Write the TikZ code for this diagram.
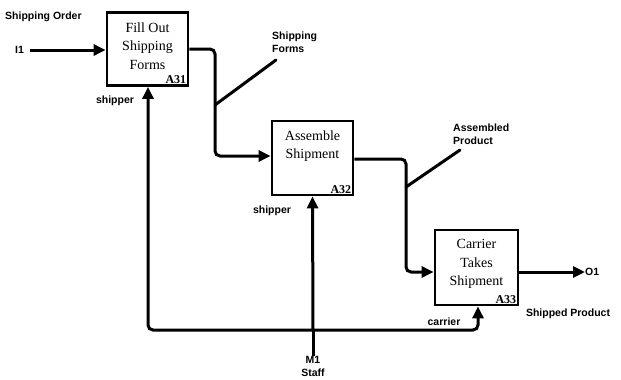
\documentclass[tikz,border=0pt]{standalone}
\usepackage{fontspec}
\setmainfont{Liberation Serif}
\setsansfont{Liberation Sans}
\usetikzlibrary{arrows.meta}
\begin{document}
\begin{tikzpicture}[x=1pt,y=-1pt,
  box/.style={draw,line width=2.8pt,minimum width=81pt,minimum height=73pt,inner sep=0pt},
  btext/.style={align=center,font=\fontsize{14}{18.5}\selectfont,inner sep=0pt},
  bid/.style={font=\fontsize{12}{12}\selectfont\bfseries,inner sep=0pt,anchor=south east},
  lbl/.style={font=\sffamily\bfseries\fontsize{10.5}{13}\selectfont,inner sep=0pt},
  flow/.style={line width=3pt,rounded corners=5pt,-{Triangle[length=12pt,width=11pt]}},
  lead/.style={line width=3pt,line cap=round}]
\useasboundingbox (0,0) rectangle (621,380);
% boxes
\node[box] (A31) at (147.5,49) {};
\node[btext] (t31) at (147.5,46) {Fill Out\\Shipping\\Forms};
\node[bid] (n31) at ([shift={(-3,-3)}]A31.south east) {A31};
\node[box,minimum height=74pt] (A32) at (312.5,158) {};
\node[btext] (t32) at (312.5,146) {Assemble\\Shipment};
\node[bid] (n32) at ([shift={(-3,-3)}]A32.south east) {A32};
\node[box,minimum width=83pt,minimum height=75pt] (A33) at (476.5,267.5) {};
\node[btext] (t33) at (476.5,264) {Carrier\\Takes\\Shipment};
\node[bid] (n33) at ([shift={(-3,-3)}]A33.south east) {A33};
% labels
\node[lbl,anchor=west] (so) at (5,17) {Shipping Order};
\node[lbl,anchor=west] (I1) at (15,50) {I1};
\node[lbl,anchor=north west,align=left] (sf) at (272,32) {Shipping\\Forms};
\node[lbl,anchor=north west,align=left] (ap) at (453,124) {Assembled\\Product};
\node[lbl] (sh1) at (115,101) {shipper};
\node[lbl] (sh2) at (272,211) {shipper};
\node[lbl] (car) at (444,322) {carrier};
\node[lbl] (sp) at (568,314) {Shipped Product};
\node[lbl,anchor=west] (O1) at (585,272) {O1};
\node[lbl] (M1) at (313,360) {M1};
\node[lbl] (st) at (313,373) {Staff};
% coordinates
\coordinate (j1) at (215,105);
\coordinate (j2) at (406,187);
\coordinate (jm) at (313,330);
% input
\draw[flow] (30,50) coordinate (i1s) -- (A31.west |- i1s);
% A31 -> A32
\draw[flow] (A31.east) -- (215,49) -- (215,156) -- (A32.west |- 0,156);
\draw[lead] (j1) -- (276,60);
% A32 -> A33
\draw[flow] (A32.east |- 0,159) -- (406,159) -- (406,272) -- (A33.west |- 0,272);
\draw[lead] (j2) -- (460,150);
% output
\draw[flow] (A33.east |- 0,272) -- (O1.west);
% mechanism
\draw[line width=3pt] (M1.north) -- (jm);
\draw[flow] (jm) -- (A32.south);
\draw[flow] (jm) -- (148,330) -- (A31.south -| 148,0);
\draw[flow] (jm) -- (478,330) -- (A33.south -| 478,0);
\end{tikzpicture}
\end{document}
